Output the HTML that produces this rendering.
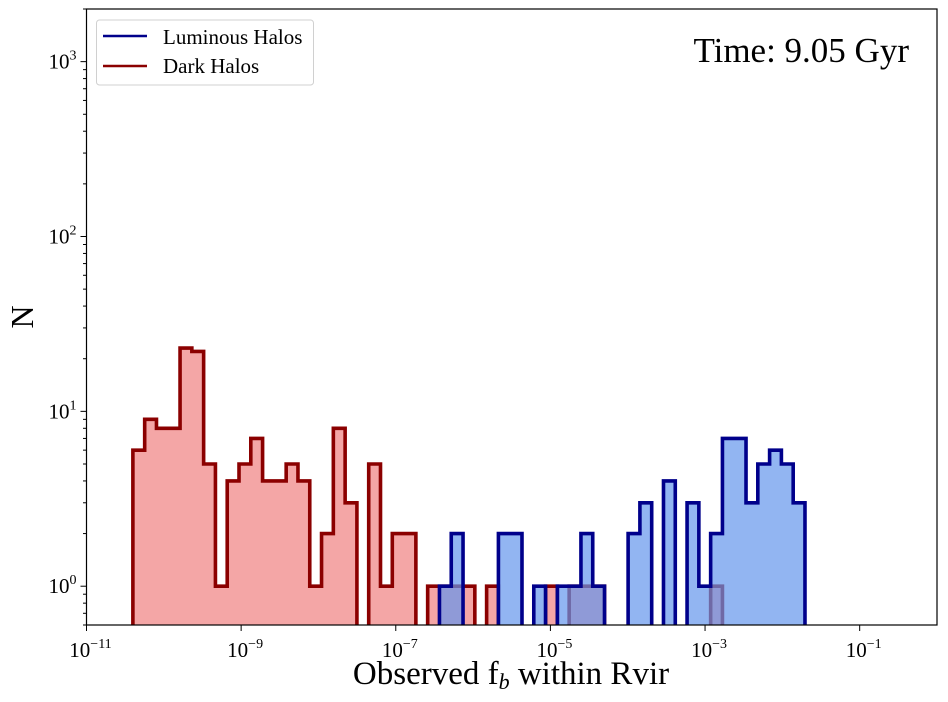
<!DOCTYPE html>
<html><head><meta charset="utf-8"><style>
html,body{margin:0;padding:0;background:#fff;overflow:hidden;width:948px;height:702px;}
svg{display:block;}
svg text{font-family:"Liberation Serif","DejaVu Serif",serif;fill:#000;}
</style></head><body>
<svg id="chart" width="948" height="702" viewBox="0 0 948 702" xmlns="http://www.w3.org/2000/svg">
<defs><clipPath id="plotclip"><rect x="86.5" y="9" width="850.5" height="616"/></clipPath></defs>
<g id="marks" clip-path="url(#plotclip)"></g>
<rect x="86.5" y="9" width="850.5" height="616" fill="none" stroke="#000" stroke-width="1.2"/>
<g id="axes"></g>
<text x="511" y="684" font-size="33" text-anchor="middle">Observed f<tspan font-size="22" dy="5" font-style="italic">b</tspan><tspan dy="-5"> within Rvir</tspan></text>
<text x="0" y="0" font-size="32" text-anchor="middle" transform="translate(33,317) rotate(-90)">N</text>
<text x="909" y="62" font-size="35" text-anchor="end">Time: 9.05 Gyr</text>
<g>
<rect x="96.5" y="20" width="217" height="65" rx="3" fill="#fff" stroke="#d0d0d0" stroke-width="1"/>
<line x1="103" y1="36" x2="147" y2="36" stroke="#00008b" stroke-width="2.5"/>
<text x="163" y="44" font-size="21">Luminous Halos</text>
<line x1="103" y1="66" x2="147" y2="66" stroke="#8b0000" stroke-width="2.5"/>
<text x="163" y="73" font-size="21">Dark Halos</text>
</g>
</svg>
<script>
const binStart = -10.4;
const binWidth = 0.1525;
const darkCounts = [6,9,8,8,23,22,5,1,4,5,7,4,4,5,4,1,2,8,3,0,5,1,2,2,0,1,1,1,1,0,1,0,0,0,0,1,0,1,1,1,0,0,0,0,0,0,0,0,0,1];
const lumCounts = [0,0,0,0,0,0,0,0,0,0,0,0,0,0,0,0,0,0,0,0,0,0,0,0,0,0,1,2,0,0,0,2,2,0,1,0,1,1,2,1,0,0,2,3,0,4,0,3,1,2,7,7,3,5,6,5,3];
const xTickExps = [-11,-9,-7,-5,-3,-1];
const yTickExps = [0,1,2,3];

const X0=86.5, X1=937, Y0=625, Y1=9;
const xMin=-11, xMax=0, yMin=Math.log10(0.6), yMax=Math.log10(2000);
function xs(lg){return X0+(lg-xMin)/(xMax-xMin)*(X1-X0);}
function ys(v){if(v<=0)return Y0+10;const lg=Math.log10(v);return Y0-(lg-yMin)/(yMax-yMin)*(Y0-Y1);}
const NS='http://www.w3.org/2000/svg';
const marks=document.getElementById('marks'), axes=document.getElementById('axes');

function hist(counts,fill,stroke,name){
  let d='', base=Y0+10;
  let started=false;
  counts.forEach((c,i)=>{
    const xa=xs(binStart+i*binWidth), xb=xs(binStart+(i+1)*binWidth), y=ys(c);
    if(!started){d+='M'+xa+','+base+' L'+xa+','+y;started=true;} else d+=' L'+xa+','+y;
    d+=' L'+xb+','+y;
  });
  d+=' L'+xs(binStart+counts.length*binWidth)+','+base+' Z';
  const f=document.createElementNS(NS,'path');
  f.setAttribute('d',d);f.setAttribute('fill',fill);f.setAttribute('fill-opacity','0.7');
  
  
  marks.appendChild(f);
  const s=document.createElementNS(NS,'path');
  s.setAttribute('d',d);s.setAttribute('fill','none');s.setAttribute('stroke',stroke);s.setAttribute('stroke-width','3.6');s.setAttribute('stroke-linejoin','miter');
  
  
  marks.appendChild(s);
}
hist(darkCounts,'#f08080','#8b0000','dark-halos-histogram');
hist(lumCounts,'#6495ed','#00008b','luminous-halos-histogram');

function line(x1,y1,x2,y2){const l=document.createElementNS(NS,'line');l.setAttribute('x1',x1);l.setAttribute('y1',y1);l.setAttribute('x2',x2);l.setAttribute('y2',y2);l.setAttribute('stroke','#000');l.setAttribute('stroke-width','1');axes.appendChild(l);return l;}
function label(x,y,exp,anchor,name){
  const t=document.createElementNS(NS,'text');
  t.setAttribute('x',x);t.setAttribute('y',y);t.setAttribute('font-size','21');t.setAttribute('text-anchor',anchor);
  t.innerHTML='10<tspan font-size="14" dy="-9">'+(exp<0?'\u2212'+(-exp):exp)+'</tspan>';
  
  
  axes.appendChild(t);
}
xTickExps.forEach(e=>{const x=xs(e);const l=line(x,Y0,x,Y0+6);
  
  
  label(x+4,Y0+32,e,'middle','x-tick-label');});
yTickExps.forEach(e=>{const y=ys(Math.pow(10,e));const l=line(X0-6,y,X0,y);
  
  
  label(X0-10,y+7,e,'end','y-tick-label');});
for(let e=-1;e<=3;e++){for(let m=2;m<=9;m++){const v=m*Math.pow(10,e);const y=ys(v);if(y<Y1||y>Y0)continue;const l=line(X0-3.5,y,X0,y);
  
  }}
</script>
</body></html>
